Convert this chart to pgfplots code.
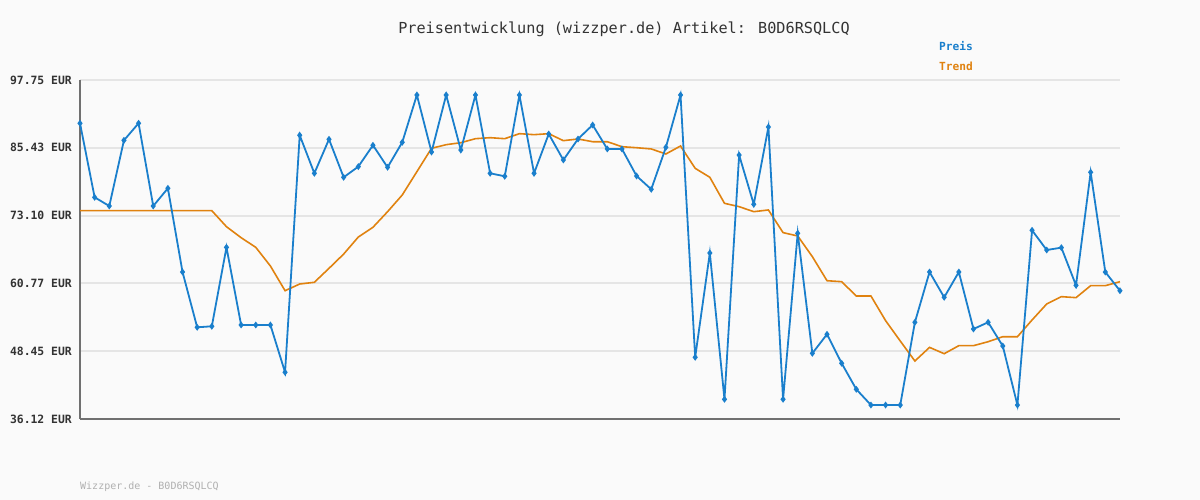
\documentclass[border=0pt]{standalone}
\usepackage{pgfplots}
\pgfplotsset{compat=1.18}
\usepackage{fontspec}
\newfontfamily\mono{DejaVu Sans Mono}
\definecolor{bg}{HTML}{FAFAFA}
\definecolor{preis}{HTML}{1A7FCC}
\definecolor{trend}{HTML}{E0820F}
\definecolor{gridc}{HTML}{E5E5E5}
\definecolor{axc}{HTML}{707070}
\definecolor{txt}{HTML}{333333}
\definecolor{foot}{HTML}{B0B0B0}
\begin{document}
\begin{tikzpicture}[x=1bp,y=1bp]
\useasboundingbox (0,0) rectangle (1200,500);
\fill[bg] (0,0) rectangle (1200,500);
\begin{axis}[
  at={(80bp,81bp)}, anchor=south west,
  width=1040bp, height=339bp, scale only axis,
  xmin=0, xmax=71, ymin=36.12, ymax=97.75,
  clip=false,
  axis lines*=left,
  axis line style={axc, line width=2.2bp},
  xtick=\empty,
  ytick={36.12,48.45,60.77,73.10,85.43,97.75},
  yticklabels={36.12 EUR,48.45 EUR,60.77 EUR,73.10 EUR,85.43 EUR,97.75 EUR},
  major tick length=0pt,
  ymajorgrids,
  grid style={gridc, line width=2bp},
  yticklabel style={font=\mono\bfseries\fontsize{11.4bp}{13bp}\selectfont, text=txt, inner sep=0pt, xshift=-8bp},
]
\addplot[trend, line width=1.6bp, no markers] table {
x y
0 73.99
1 73.99
2 73.99
3 73.99
4 73.99
5 73.99
6 73.99
7 73.99
8 73.99
9 73.99
10 71.08
11 69.08
12 67.33
13 63.93
14 59.44
15 60.66
16 60.97
17 63.51
18 66.1
19 69.2
20 70.97
21 73.81
22 76.84
23 81.08
24 85.33
25 85.99
26 86.35
27 87.08
28 87.26
29 87.08
30 87.99
31 87.81
32 87.99
33 86.72
34 87.02
35 86.53
36 86.53
37 85.62
38 85.44
39 85.21
40 84.30
41 85.75
42 81.69
43 80.06
44 75.33
45 74.72
46 73.81
47 74.12
48 70.00
49 69.39
50 65.63
51 61.26
52 61.08
53 58.48
54 58.48
55 54.0
56 50.3
57 46.66
58 49.14
59 47.99
60 49.45
61 49.45
62 50.17
63 51.08
64 51.08
65 54.12
66 57.03
67 58.36
68 58.18
69 60.36
70 60.36
71 61.08
};
\addplot[preis, line width=1.8bp, mark=diamond*, mark size=2bp, mark options={solid}] table {
x y
0 89.88
1 76.42
2 74.84
3 86.78
4 89.88
5 74.84
6 78.06
7 62.84
8 52.79
9 52.97
10 67.33
11 53.21
12 53.21
13 53.21
14 44.61
15 87.70
16 80.79
17 86.97
18 80.06
19 82.0
20 85.88
21 81.88
22 86.42
23 95.02
24 84.66
25 95.02
26 85.02
27 95.02
28 80.79
29 80.24
30 95.02
31 80.79
32 87.93
33 83.21
34 87.02
35 89.57
36 85.21
37 85.21
38 80.30
39 77.88
40 85.51
41 95.02
42 47.34
43 66.30
44 39.70
45 84.11
46 75.15
47 89.20
48 39.70
49 69.88
50 48.06
51 51.52
52 46.25
53 41.52
54 38.66
55 38.66
56 38.66
57 53.70
58 62.84
59 58.24
60 62.84
61 52.48
62 53.70
63 49.39
64 38.66
65 70.42
66 66.84
67 67.27
68 60.42
69 80.97
70 62.84
71 59.44
};
\end{axis}
\node[anchor=base, inner sep=0pt, text=txt, font=\mono\fontsize{15.2bp}{18bp}\selectfont] at (624,466.7) {Preisentwicklung (wizzper.de) Artikel: B0D6RSQLCQ};
\node[anchor=base west, inner sep=0pt, text=preis, font=\mono\bfseries\fontsize{11.2bp}{13bp}\selectfont] at (939,449) {Preis};
\node[anchor=base west, inner sep=0pt, text=trend, font=\mono\bfseries\fontsize{11.2bp}{13bp}\selectfont] at (939,429) {Trend};
\node[anchor=base west, inner sep=0pt, text=foot, font=\mono\fontsize{10bp}{12bp}\selectfont] at (80,10.7) {Wizzper.de - B0D6RSQLCQ};
\end{tikzpicture}
\end{document}
